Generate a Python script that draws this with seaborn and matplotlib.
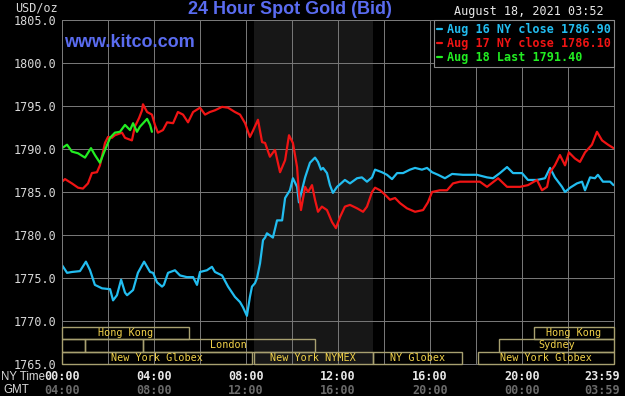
import matplotlib
matplotlib.use('Agg')
import matplotlib.pyplot as plt
from matplotlib.patches import Rectangle
import seaborn as sns
import pandas as pd

# --- data ---
blue_hours = [0.00, 0.22, 0.43, 0.78, 1.04, 1.22, 1.43, 1.74, 2.09, 2.22, 2.39, 2.57, 2.74, 2.83,
              3.09, 3.30, 3.57, 3.83, 3.96, 4.13, 4.35, 4.43, 4.61, 4.91, 5.13, 5.43, 5.70, 5.87,
              6.00, 6.30, 6.52, 6.65, 6.96, 7.22, 7.52, 7.74, 7.87, 8.04, 8.17, 8.26, 8.39, 8.48,
              8.61, 8.74, 8.83, 8.91, 9.17, 9.35, 9.57, 9.70, 9.91, 10.04, 10.22, 10.30, 10.43,
              10.57, 10.78, 11.00, 11.13, 11.26, 11.35, 11.52, 11.65, 11.78, 11.96, 12.30, 12.52,
              12.83, 13.04, 13.26, 13.48, 13.61, 13.91, 14.13, 14.35, 14.57, 14.83, 15.13, 15.35,
              15.65, 15.87, 16.09, 16.35, 16.65, 16.96, 17.43, 18.04, 18.48, 18.74, 19.04, 19.35,
              19.61, 20.00, 20.26, 20.65, 21.00, 21.22, 21.43, 21.74, 21.87, 22.09, 22.39, 22.61,
              22.74, 22.96, 23.17, 23.30, 23.52, 23.83, 23.98]
blue_prices = [1776.5, 1775.6, 1775.7, 1775.8, 1776.9, 1775.9, 1774.2, 1773.8, 1773.7, 1772.4,
               1773.0, 1774.8, 1773.3, 1773.0, 1773.6, 1775.6, 1776.9, 1775.7, 1775.6, 1774.5,
               1774.0, 1774.2, 1775.6, 1775.9, 1775.3, 1775.1, 1775.1, 1774.2, 1775.7, 1775.9,
               1776.3, 1775.7, 1775.3, 1774.0, 1772.8, 1772.2, 1771.6, 1770.6, 1772.8, 1774.0,
               1774.4, 1775.0, 1776.7, 1779.4, 1779.7, 1780.2, 1779.7, 1781.7, 1781.7, 1784.3,
               1785.2, 1786.6, 1785.6, 1783.8, 1785.2, 1786.7, 1788.4, 1789.0, 1788.5, 1787.6,
               1787.8, 1787.2, 1785.8, 1784.9, 1785.6, 1786.4, 1786.0, 1786.6, 1786.7, 1786.2,
               1786.7, 1787.6, 1787.3, 1787.0, 1786.5, 1787.2, 1787.2, 1787.6, 1787.8, 1787.6,
               1787.8, 1787.3, 1787.0, 1786.6, 1787.1, 1787.0, 1787.0, 1786.7, 1786.6, 1787.2,
               1787.9, 1787.2, 1787.2, 1786.4, 1786.4, 1786.6, 1787.8, 1786.7, 1785.6, 1785.0,
               1785.5, 1786.0, 1786.2, 1785.2, 1786.7, 1786.6, 1787.0, 1786.2, 1786.2, 1785.8]

red_hours = [0.00, 0.13, 0.43, 0.70, 0.91, 1.13, 1.30, 1.52, 1.65, 1.87, 2.00, 2.17, 2.30, 2.61,
             2.74, 3.04, 3.17, 3.35, 3.48, 3.52, 3.70, 3.91, 4.04, 4.17, 4.39, 4.57, 4.83, 5.04,
             5.26, 5.48, 5.70, 6.00, 6.22, 6.43, 6.65, 6.96, 7.22, 7.52, 7.74, 7.96, 8.17, 8.30,
             8.52, 8.70, 8.83, 9.04, 9.26, 9.48, 9.70, 9.87, 10.04, 10.22, 10.30, 10.39, 10.57,
             10.70, 10.87, 11.00, 11.13, 11.30, 11.52, 11.74, 11.91, 12.09, 12.30, 12.52, 12.83,
             13.09, 13.26, 13.48, 13.61, 13.83, 14.04, 14.26, 14.48, 14.70, 15.00, 15.35, 15.70,
             15.91, 16.09, 16.43, 16.74, 17.00, 17.30, 18.17, 18.48, 18.96, 19.35, 19.91, 20.26,
             20.65, 20.87, 21.09, 21.22, 21.43, 21.65, 21.87, 22.04, 22.30, 22.52, 22.74, 23.04,
             23.26, 23.48, 23.74, 23.98]
red_prices = [1786.2, 1786.5, 1786.0, 1785.5, 1785.4, 1786.0, 1787.2, 1787.3, 1788.1, 1790.7,
              1791.4, 1791.3, 1791.6, 1791.9, 1791.3, 1791.0, 1792.6, 1793.6, 1794.5, 1795.2,
              1794.3, 1794.0, 1792.8, 1791.9, 1792.2, 1793.1, 1793.0, 1794.3, 1794.0, 1793.1,
              1794.3, 1794.8, 1794.0, 1794.3, 1794.5, 1794.9, 1794.8, 1794.3, 1794.0, 1793.0,
              1791.4, 1792.1, 1793.4, 1790.8, 1790.7, 1789.1, 1789.9, 1787.3, 1788.7, 1791.6,
              1790.7, 1787.9, 1784.9, 1782.9, 1785.6, 1785.0, 1785.8, 1784.1, 1782.7, 1783.3,
              1782.9, 1781.5, 1780.8, 1782.1, 1783.3, 1783.5, 1783.1, 1782.7, 1783.3, 1785.0,
              1785.5, 1785.2, 1784.7, 1784.1, 1784.3, 1783.7, 1783.1, 1782.7, 1782.9, 1783.8,
              1785.0, 1785.2, 1785.2, 1786.0, 1786.2, 1786.2, 1785.6, 1786.6, 1785.6, 1785.6,
              1785.8, 1786.4, 1785.2, 1785.6, 1787.3, 1788.1, 1789.3, 1788.1, 1789.6, 1788.9,
              1788.5, 1789.6, 1790.5, 1792.0, 1791.0, 1790.5, 1790.1]

green_hours = [0.00, 0.22, 0.43, 0.70, 1.00, 1.26, 1.43, 1.65, 1.87, 2.09, 2.30, 2.52, 2.74,
               2.96, 3.09, 3.26, 3.39, 3.70, 3.83, 3.91]
green_prices = [1790.1, 1790.5, 1789.7, 1789.5, 1789.0, 1790.1, 1789.3, 1788.4, 1789.9, 1791.3,
                1791.9, 1792.0, 1792.8, 1792.2, 1793.0, 1792.0, 1792.6, 1793.5, 1792.8, 1792.0]

series_names = ['Aug 16 NY close 1786.90', 'Aug 17 NY close 1786.10', 'Aug 18 Last 1791.40']
series_colors = ['#22bdf0', '#f01414', '#22ee22']

ny_labels = ['00:00', '04:00', '08:00', '12:00', '16:00', '20:00', '23:59']
gmt_labels = ['04:00', '08:00', '12:00', '16:00', '20:00', '00:00', '03:59']
label_hours = [0, 4, 8, 12, 16, 20, 24]

session_names = ['Hong Kong', '', '', 'London', 'New York Globex', 'New York NYMEX',
                 'NY Globex', 'New York Globex', 'Sydney', 'Hong Kong']
session_start = [0, 0, 1.0, 3.5, 0, 8.33, 13.5, 18.1, 19.0, 20.5]
session_end = [5.5, 1.0, 3.5, 11.0, 8.27, 13.5, 17.4, 24, 24, 24]
session_row = [0, 1, 1, 1, 2, 2, 2, 2, 1, 0]
nymex_open, nymex_close = 8.33, 13.5

df = pd.concat([
    pd.DataFrame({'hour': blue_hours, 'price': blue_prices, 'series': series_names[0]}),
    pd.DataFrame({'hour': red_hours, 'price': red_prices, 'series': series_names[1]}),
    pd.DataFrame({'hour': green_hours, 'price': green_prices, 'series': series_names[2]}),
])

sns.set_style('dark')
plt.rcParams['font.family'] = ['DejaVu Sans Mono', 'DejaVu Sans']
mono = 'DejaVu Sans Mono'
grid_col = '#7a7a7a'

W, H = 625, 396
fig = plt.figure(figsize=(W / 100, H / 100), dpi=100, facecolor='black')
ax = fig.add_axes([62 / W, 32 / H, 552 / W, 344 / H])
ax.set_facecolor('black')

ax.axvspan(nymex_open, nymex_close, color='#171717', zorder=0.2, lw=0)

sns.lineplot(data=df, x='hour', y='price', hue='series', hue_order=series_names,
             palette=dict(zip(series_names, series_colors)), linewidth=1.6,
             estimator=None, sort=False, legend=False, ax=ax)
ax.set_xlabel('')
ax.set_ylabel('')

ax.set_xlim(0, 24)
ax.set_ylim(1765, 1805)
ax.set_xticks(range(0, 25, 2))
ax.set_xticklabels([])
yt = list(range(1765, 1806, 5))
ax.set_yticks(yt)
ax.set_yticklabels([f'{v:.1f}' for v in yt], family=mono, fontsize=8.5, color='#d8d8d8')
ax.tick_params(length=0, pad=4)
ax.grid(True, color=grid_col, lw=0.7)
ax.set_axisbelow(True)
for s in ax.spines.values():
    s.set_color(grid_col)
    s.set_linewidth(0.7)

# trading sessions
row_h = 1.45
for name, a, b, r in zip(session_names, session_start, session_end, session_row):
    y0 = 1765 + (2 - r) * row_h
    ax.add_patch(Rectangle((a, y0), b - a, row_h, fill=False, edgecolor='#a8a070',
                           lw=1.0, zorder=3, clip_on=False))
    if name:
        ax.text((a + b) / 2, y0 + row_h / 2, name, ha='center', va='center',
                family=mono, fontsize=7.3, color='#f2d24a', zorder=4)

# time labels under the axis
tr = ax.get_xaxis_transform()
for h, ny, gmt in zip(label_hours, ny_labels, gmt_labels):
    ha = 'right' if h == 24 else 'center'
    x = h + 0.26 if h == 24 else h
    ax.text(x, -0.035, ny, transform=tr, ha=ha, va='center', family=mono,
            fontsize=8.5, fontweight='bold', color='#e8e8e8', clip_on=False)
    ax.text(x, -0.078, gmt, transform=tr, ha=ha, va='center', family=mono,
            fontsize=8.5, fontweight='bold', color='#6a6a6a', clip_on=False)
fig.text(1 / W, 1 - 377 / H, 'NY Time', ha='left', va='center', family='Liberation Sans',
         fontsize=8.3, color='#d8d8d8')
fig.text(16 / W, 1 - 390 / H, 'GMT', ha='center', va='center', family='Liberation Sans',
         fontsize=8.3, color='#d8d8d8')

# header texts
fig.text(290 / W, 1 - 10 / H, '24 Hour Spot Gold (Bid)', ha='center', va='center',
         family='Liberation Sans', fontsize=13, fontweight='bold', color='#5a6cf0')
ax.text(0.003, 0.935, 'www.kitco.com', transform=ax.transAxes, ha='left', va='center',
        family='Liberation Sans', fontsize=13, fontweight='bold', color='#5a6cf0')
fig.text(36 / W, 1 - 8 / H, 'USD/oz', ha='center', va='center', family=mono,
         fontsize=8.5, color='#d8d8d8')
fig.text(604 / W, 1 - 12 / H, 'August 18, 2021 03:52', ha='right', va='center',
         family=mono, fontsize=8.5, color='#e8e8e8')

leg = ax.legend(ax.get_lines()[:3], series_names, loc='upper right', bbox_to_anchor=(1.0, 1.0),
                borderaxespad=0, frameon=True, fancybox=False, facecolor='black',
                edgecolor='#8a8a8a', framealpha=1, labelcolor='linecolor',
                prop={'family': mono, 'weight': 'bold', 'size': 8.5},
                handlelength=0.5, handletextpad=0.4, borderpad=0.25, labelspacing=0.1)
leg.get_frame().set_linewidth(0.8)

fig.savefig('out.png', dpi=100, facecolor='black')
